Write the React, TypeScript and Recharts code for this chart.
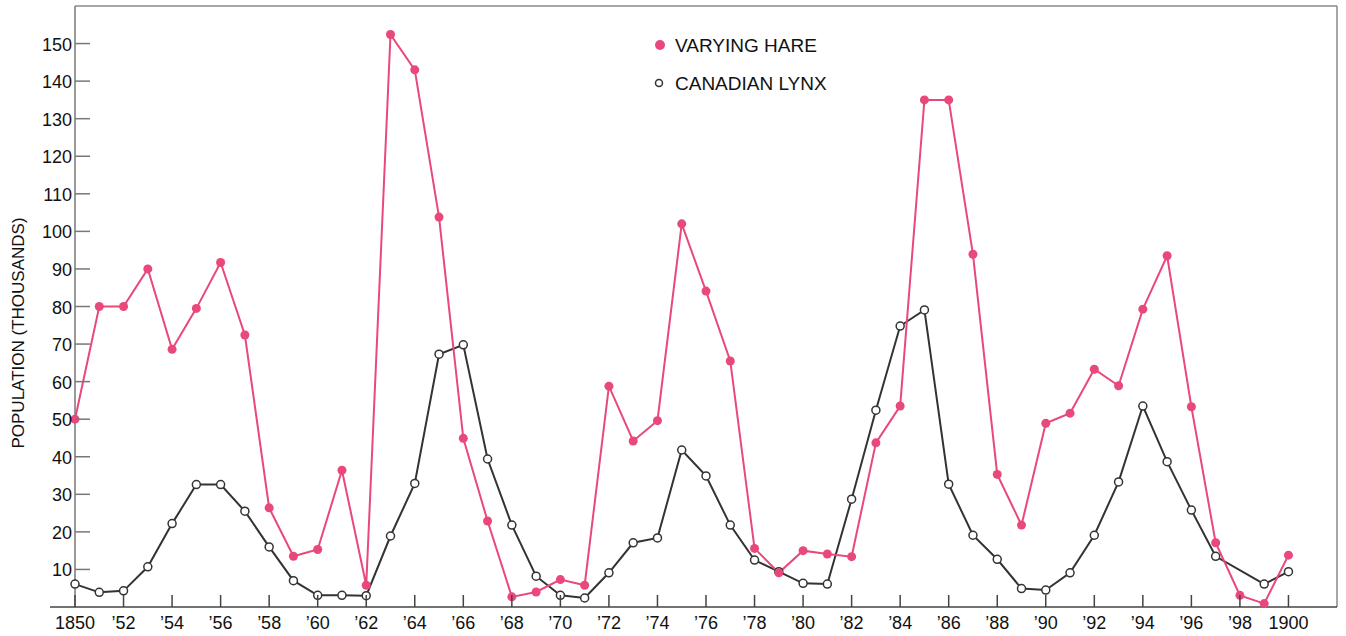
import { LineChart, Line, XAxis, YAxis, ReferenceLine } from "recharts";

const years = [
  1850, 1851, 1852, 1853, 1854, 1855, 1856, 1857, 1858, 1859,
  1860, 1861, 1862, 1863, 1864, 1865, 1866, 1867, 1868, 1869,
  1870, 1871, 1872, 1873, 1874, 1875, 1876, 1877, 1878, 1879,
  1880, 1881, 1882, 1883, 1884, 1885, 1886, 1887, 1888, 1889,
  1890, 1891, 1892, 1893, 1894, 1895, 1896, 1897, 1898, 1899,
  1900,
];

// thousands
const hare = [
  50, 80, 80, 90, 68.6, 79.5, 91.7, 72.4, 26.4, 13.5,
  15.3, 36.4, 5.8, 152.4, 143, 103.8, 44.9, 22.9, 2.7, 4,
  7.3, 5.8, 58.8, 44.2, 49.6, 102, 84.1, 65.5, 15.6, 9.1,
  15, 14.1, 13.4, 43.7, 53.5, 135, 135, 93.9, 35.3, 21.8,
  48.9, 51.6, 63.3, 58.9, 79.3, 93.5, 53.3, 17.1, 3.1, 0.9,
  13.8,
];

const lynx = [
  6.1, 3.9, 4.3, 10.7, 22.2, 32.6, 32.6, 25.5, 16, 7,
  3.1, 3.1, 3, 18.9, 32.9, 67.3, 69.8, 39.4, 21.8, 8.2,
  3.1, 2.4, 9.1, 17.1, 18.4, 41.8, 34.9, 21.8, 12.5, 9.4,
  6.3, 6.1, 28.7, 52.4, 74.8, 79.1, 32.7, 19.1, 12.7, 4.9,
  4.5, 9.1, 19.1, 33.3, 53.5, 38.7, 25.8, 13.5, null, 6.1,
  9.4,
];

const xTicks = [
  1850, 1852, 1854, 1856, 1858, 1860, 1862, 1864, 1866, 1868, 1870, 1872, 1874,
  1876, 1878, 1880, 1882, 1884, 1886, 1888, 1890, 1892, 1894, 1896, 1898, 1900,
];
const xTickLabels = [
  "1850", "’52", "’54", "’56", "’58", "’60", "’62", "’64", "’66", "’68", "’70", "’72", "’74",
  "’76", "’78", "’80", "’82", "’84", "’86", "’88", "’90", "’92", "’94", "’96", "’98", "1900",
];
const yTicks = [10, 20, 30, 40, 50, 60, 70, 80, 90, 100, 110, 120, 130, 140, 150];

const hareName = "VARYING HARE";
const lynxName = "CANADIAN LYNX";

const PINK = "#e9487a";
const DARK = "#333333";
const FONT = "'Liberation Sans', Arial, sans-serif";

const data = years.map((year, i) => ({ year, hare: hare[i], lynx: lynx[i] }));

const XTick = (props: any) => {
  const { x, y, payload, index } = props;
  const label = xTickLabels[xTicks.indexOf(payload.value)];
  return (
    <g>
      <line x1={x} x2={x} y1={y - 12} y2={y} stroke="#444" strokeWidth={1.5} />
      {index === 0 && <line x1={x - 25} x2={x} y1={y} y2={y} stroke="#444" strokeWidth={1.5} />}
      <text x={x} y={y + 22} textAnchor="middle" fontSize={18} fill="#111" fontFamily={FONT}>
        {label}
      </text>
    </g>
  );
};

const YTick = (props: any) => {
  const { x, y, payload } = props;
  return (
    <g>
      <line x1={x} x2={x + 15} y1={y} y2={y} stroke="#777" strokeWidth={1.5} />
      <text x={x - 3} y={y + 7} textAnchor="end" fontSize={18} fill="#111" fontFamily={FONT}>
        {payload.value}
      </text>
    </g>
  );
};

export default function App() {
  return (
    <div style={{ position: "absolute", left: 0, top: 0, width: 1346, height: 636, background: "#fff", fontFamily: FONT }}>
      <LineChart width={1346} height={636} data={data} margin={{ top: 6, right: 9, left: 0, bottom: 0 }}>
        <XAxis
          dataKey="year"
          type="number"
          domain={[1850, 1902]}
          ticks={xTicks}
          interval={0}
          height={29}
          axisLine={{ stroke: "#444", strokeWidth: 1.5 }}
          tickLine={false}
          tickSize={0}
          tickMargin={0}
          tick={<XTick />}
        />
        <YAxis
          type="number"
          domain={[0, 160]}
          ticks={yTicks}
          interval={0}
          width={75}
          axisLine={{ stroke: "#777", strokeWidth: 1.5 }}
          tickLine={false}
          tickSize={0}
          tickMargin={0}
          tick={<YTick />}
          label={{
            content: () => (
              <text
                x={18}
                y={333}
                transform="rotate(-90 18 333)"
                textAnchor="middle"
                dominantBaseline="central"
                fontSize={17}
                fill="#111"
                fontFamily={FONT}
              >
                POPULATION (THOUSANDS)
              </text>
            ),
          }}
        />
        <ReferenceLine y={160} stroke="#8a8a8a" strokeWidth={1.5} />
        <ReferenceLine x={1902} stroke="#8a8a8a" strokeWidth={1.5} />
        <Line
          type="linear"
          dataKey="lynx"
          stroke={DARK}
          strokeWidth={2}
          connectNulls
          dot={{ r: 4, fill: "#fff", stroke: DARK, strokeWidth: 1.5 }}
          activeDot={false}
          isAnimationActive={false}
        />
        <Line
          type="linear"
          dataKey="hare"
          stroke={PINK}
          strokeWidth={2}
          dot={{ r: 4.5, fill: PINK, stroke: "none" }}
          activeDot={false}
          isAnimationActive={false}
        />
      </LineChart>
      <svg width={1346} height={636} style={{ position: "absolute", left: 0, top: 0, pointerEvents: "none" }}>
        <circle cx={660} cy={45} r={5} fill={PINK} />
        <text x={675} y={52} fontSize={19} fill="#111" fontFamily={FONT}>
          {hareName}
        </text>
        <circle cx={659} cy={83} r={3.5} fill="#fff" stroke={DARK} strokeWidth={1.5} />
        <text x={675} y={90} fontSize={19} fill="#111" fontFamily={FONT}>
          {lynxName}
        </text>
      </svg>
    </div>
  );
}
